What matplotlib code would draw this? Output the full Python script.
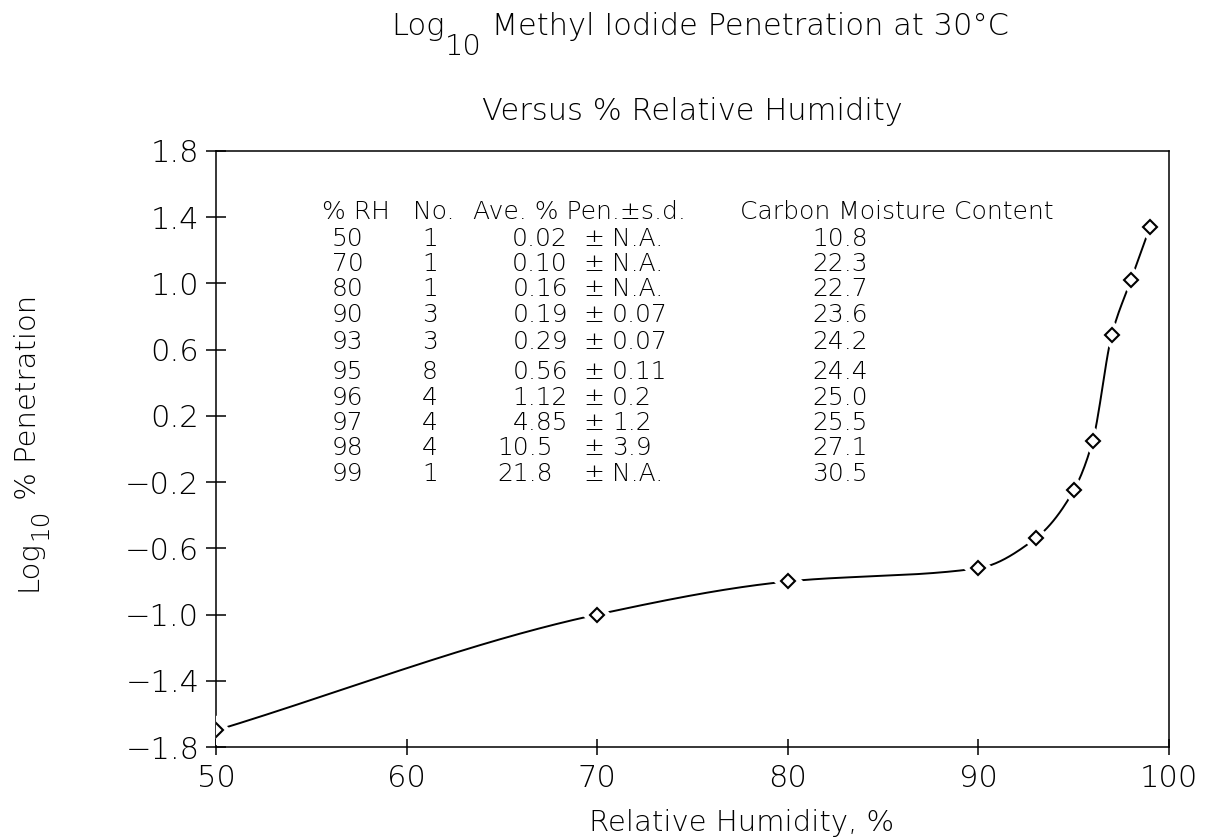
"""Log10 methyl iodide penetration versus relative humidity (30 C)."""

import numpy as np
import matplotlib
matplotlib.use("Agg")
import matplotlib.pyplot as plt

# data
rh = [50, 70, 80, 90, 93, 95, 96, 97, 98, 99]
log_pen = [-1.70, -1.00, -0.80, -0.72, -0.54, -0.25, 0.05, 0.69, 1.02, 1.34]

# table printed inside the plot
tab_rh = ["50", "70", "80", "90", "93", "95", "96", "97", "98", "99"]
tab_no = ["1", "1", "1", "3", "3", "8", "4", "4", "4", "1"]
tab_avg = ["0.02", "0.10", "0.16", "0.19", "0.29", "0.56", "1.12", "4.85", "10.5", "21.8"]
tab_sd = ["N.A.", "N.A.", "N.A.", "0.07", "0.07", "0.11", "0.2", "1.2", "3.9", "N.A."]
tab_moist = ["10.8", "22.3", "22.7", "23.6", "24.2", "24.4", "25.0", "25.5", "27.1", "30.5"]

x_ticks = [50, 60, 70, 80, 90, 100]
y_ticks = [-1.8, -1.4, -1.0, -0.6, -0.2, 0.2, 0.6, 1.0, 1.4, 1.8]

W, H = 1207, 838
plt.rcParams["font.family"] = ["DejaVu Sans"]
plt.rcParams["font.weight"] = "light"


def pchip(x, y, xs):
    """Monotone cubic (Fritsch-Carlson) used only to draw the smooth line."""
    x = np.asarray(x, float)
    y = np.asarray(y, float)
    h = np.diff(x)
    d = np.diff(y) / h
    m = np.zeros_like(y)
    m[0], m[-1] = d[0], d[-1]
    for k in range(1, len(x) - 1):
        if d[k - 1] * d[k] > 0:
            w1 = 2 * h[k] + h[k - 1]
            w2 = h[k] + 2 * h[k - 1]
            m[k] = (w1 + w2) / (w1 / d[k - 1] + w2 / d[k])
    idx = np.clip(np.searchsorted(x, xs) - 1, 0, len(x) - 2)
    t = (xs - x[idx]) / h[idx]
    h00 = 2 * t**3 - 3 * t**2 + 1
    h10 = t**3 - 2 * t**2 + t
    h01 = -2 * t**3 + 3 * t**2
    h11 = t**3 - t**2
    return (h00 * y[idx] + h10 * h[idx] * m[idx]
            + h01 * y[idx + 1] + h11 * h[idx] * m[idx + 1])


def fx(px):
    return px / W


def fy(py):
    return 1 - py / H


def pieces(fig, mid, base, parts, size, vertical=False):
    """Write text pieces one after another (big plotter-style subscripts).
    parts: list of (text, shift_px, scale); the run is centred on `mid`."""
    rend = fig.canvas.get_renderer()
    rot = 90 if vertical else 0
    arts, lens = [], []
    for s, _, sc in parts:
        t = fig.text(0, 0, s, fontsize=size * sc, rotation=rot,
                     va="baseline", ha="left")
        bb = t.get_window_extent(rend)
        arts.append(t)
        lens.append(bb.height if vertical else bb.width)
    total = sum(lens)
    if vertical:
        pos = mid + total / 2  # pixel row (from top) of the run's start
        for t, (s, sh, sc), ln in zip(arts, parts, lens):
            t.set_position((fx(base + sh), fy(pos)))
            t.set_va("bottom")
            t.set_ha("right")
            pos -= ln
    else:
        pos = mid - total / 2
        for t, (s, sh, sc), ln in zip(arts, parts, lens):
            t.set_position((fx(pos), fy(base + sh)))
            pos += ln


fig = plt.figure(figsize=(W / 100, H / 100), dpi=100)
ax = fig.add_axes([fx(216), fy(747), (1169 - 216) / W, (747 - 151) / H])

xs = np.linspace(rh[0], rh[-1], 600)
ax.plot(xs, pchip(rh, log_pen, xs), color="black", lw=1.4, zorder=2)
# white halo so the line stops short of each marker
ax.plot(rh, log_pen, ls="none", marker="D", ms=13, mfc="white", mec="white",
        mew=2, zorder=3)
ax.plot(rh, log_pen, ls="none", marker="D", ms=7.5, mfc="white", mec="black",
        mew=1.5, zorder=4)

ax.set_xlim(50, 100)
ax.set_ylim(-1.8, 1.8)
ax.set_xticks(x_ticks)
ax.set_xticklabels([str(v) for v in x_ticks])
ax.set_yticks(y_ticks)
ax.set_yticklabels([f"{v:.1f}".replace("-", "\u2212") for v in y_ticks])
ax.tick_params(axis="x", direction="inout", length=11, width=1.1, pad=7,
               labelsize=22)
ax.tick_params(axis="y", direction="inout", length=14, width=1.1, pad=5,
               labelsize=22)
for sp in ax.spines.values():
    sp.set_linewidth(1.1)

# titles and axis labels (the "10" is drawn nearly full size, below the line)
pieces(fig, 700, 35, [("Log", 0, 1.0), ("10", 20, 0.95),
                      (" Methyl Iodide Penetration at 30°C", 0, 1.0)], 22)
fig.text(fx(692), fy(120), "Versus % Relative Humidity",
         ha="center", va="baseline", fontsize=22)
pieces(fig, 443, 42, [("Log", 0, 1.0), ("10", 10, 0.85),
                      (" % Penetration", 0, 1.0)], 21, vertical=True)
fig.text(fx(742), fy(831), "Relative Humidity, %",
         ha="center", va="baseline", fontsize=21)

# table
ts = 18
head_y = 219
fig.text(fx(322), fy(head_y), "% RH", fontsize=ts, va="baseline")
fig.text(fx(413), fy(head_y), "No.", fontsize=ts, va="baseline")
fig.text(fx(473), fy(head_y), "Ave. % Pen.\u00b1s.d.", fontsize=ts, va="baseline")
fig.text(fx(740), fy(head_y), "Carbon Moisture Content", fontsize=ts, va="baseline")

row_y = [246, 271, 296, 322, 349, 379, 405, 430, 455, 481]
for i, yy in enumerate(row_y):
    fig.text(fx(332), fy(yy), tab_rh[i], fontsize=ts, va="baseline")
    fig.text(fx(430), fy(yy), tab_no[i], fontsize=ts, va="baseline", ha="center")
    if float(tab_avg[i]) >= 10:
        fig.text(fx(497), fy(yy), tab_avg[i], fontsize=ts, va="baseline")
    else:
        fig.text(fx(568), fy(yy), tab_avg[i], fontsize=ts, va="baseline", ha="right")
    fig.text(fx(583), fy(yy), "\u00b1", fontsize=ts, va="baseline")
    fig.text(fx(612), fy(yy), tab_sd[i], fontsize=ts, va="baseline")
    fig.text(fx(868), fy(yy), tab_moist[i], fontsize=ts, va="baseline", ha="right")

fig.savefig("out.png", dpi=100, facecolor="white")
